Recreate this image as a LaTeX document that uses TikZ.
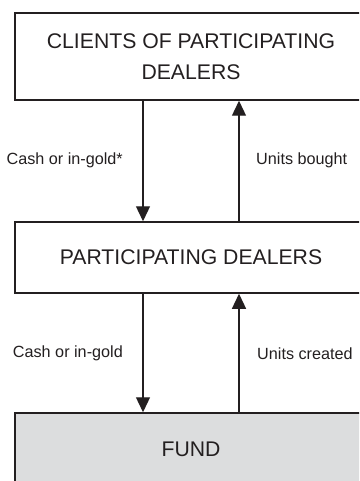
\documentclass[tikz,border=0pt]{standalone}
\usepackage{fontspec}
\setmainfont{Liberation Sans}
\usetikzlibrary{arrows.meta}
\usepackage{xcolor}
\definecolor{fundgrey}{HTML}{DCDDDE}
\definecolor{inkblack}{HTML}{231F20}
\tikzstyle{arrow} = [line width=1.3pt,draw=inkblack,-{Triangle[width=14pt,length=15pt]}]

\begin{document}
\begin{tikzpicture}
        [
            x=1pt,y=-1pt,
            box/.style={rectangle,draw=inkblack,line width=1.5pt,text=inkblack,
                minimum width=352pt,align=center,
                font=\fontsize{21.2}{31.4}\selectfont},
            lbl/.style={text=inkblack,font=\fontsize{16.2}{19}\selectfont,inner sep=0pt},
        ]
    \useasboundingbox (0,0) rectangle (359,481);
    \clip (0,0) rectangle (359,481);

    % the three boxes
    \node[box,minimum height=87pt ] (clients) at (191,56.5) {CLIENTS OF PARTICIPATING\\DEALERS};
    \node[box,minimum height=71pt ] (dealers) at (191,257.5){PARTICIPATING DEALERS};
    \node[box,minimum height=72pt,fill=fundgrey] (fund) at (191,449) {FUND};

    % where the arrows run
    \coordinate (down) at (143,0);
    \coordinate (up)   at (239,0);

    \draw[arrow] (clients.south -| down) -- (dealers.north -| down);
    \draw[arrow] (dealers.north -| up)   -- (clients.south -| up);
    \draw[arrow] (dealers.south -| down) -- (fund.north -| down);
    \draw[arrow] (fund.north -| up)      -- (dealers.south -| up);

    \node[lbl,anchor=east] (cash1)  at (123,160.5) {Cash or in-gold*};
    \node[lbl,anchor=west] (bought) at (256,160.5) {Units bought};
    \node[lbl,anchor=east] (cash2)  at (123,353.5) {Cash or in-gold};
    \node[lbl,anchor=west] (made)   at (257,353.5) {Units created};
\end{tikzpicture}
\end{document}
